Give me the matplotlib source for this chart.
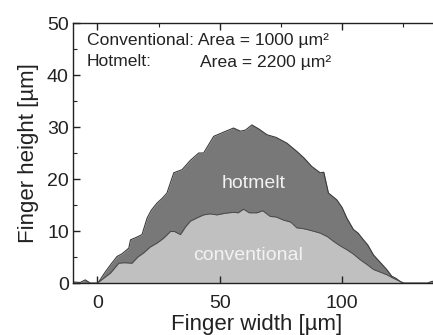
import matplotlib
matplotlib.use("Agg")
import matplotlib.pyplot as plt
from matplotlib.ticker import MultipleLocator

plt.rcParams['font.family'] = ['Liberation Sans', 'DejaVu Sans']

# Hotmelt profile (x in µm, height in µm)
hot_x = [-10, -7, -5, -3, 0, 0.5, 3, 5.5, 8, 10, 12.8, 13.5, 16, 18.2, 20.3, 22, 24.4, 26.5,
         28.4, 31.2, 34.6, 38, 41.4, 43.4, 47.5, 51, 55.6, 58.4, 60.5, 63.1, 66, 69.3, 73,
         77.4, 81.5, 84.5, 87.6, 91, 92.5, 94.4, 97.8, 100, 101.9, 104.6, 106.5, 108.7, 110.5,
         112.8, 115.5, 118.2, 120.3, 122, 123.7, 125, 130, 135, 136.6, 140]
hot_y = [0.2, 0.1, 0.6, 0.0, 0.0, 0.2, 2.0, 3.6, 5.1, 5.6, 6.7, 8.3, 8.8, 9.3, 12.5, 14.0, 15.4, 16.3,
         17.3, 21.2, 21.8, 23.6, 25.0, 25.0, 28.2, 28.9, 29.8, 29.2, 29.4, 30.4, 29.6, 28.5, 28.0,
         26.9, 25.3, 24.0, 22.4, 21.2, 21.3, 17.3, 16.0, 14.5, 12.5, 10.3, 9.6, 8.3, 7.3,
         5.4, 4.0, 2.6, 1.3, 0.9, 0.3, 0.0, 0.0, 0.0, 0.3, 0.4]

# Conventional profile
conv_x = [0, 2.5, 5.3, 8.7, 11, 14.1, 16.5, 18.9, 21.5, 24.4, 27, 29.8, 31.5, 33.9, 36, 38,
          41, 43.4, 46, 48.8, 52, 55.6, 57.5, 59.7, 62, 65.2, 67.5, 70.6, 73, 76, 79, 81.5,
          83.5, 85.6, 88, 91, 94, 96.5, 99, 101.9, 104.5, 107.3, 110, 112.8, 115.5, 118.2,
          121, 123.7, 125]
conv_y = [0.0, 0.9, 1.9, 3.8, 3.9, 3.8, 5.0, 5.8, 6.9, 7.7, 8.6, 9.9, 9.9, 9.3, 10.8, 11.9,
          12.6, 13.1, 13.3, 13.1, 13.4, 13.6, 13.5, 14.2, 13.5, 13.5, 13.9, 12.8, 12.7, 12.1, 11.7, 10.6,
          10.5, 10.3, 10.0, 9.6, 8.9, 8.0, 7.2, 6.4, 5.6, 4.5, 3.6, 2.6, 2.1, 1.6,
          0.9, 0.3, 0.0]

hot_label = "hotmelt"
conv_label = "conventional"
annot_lines = ["Conventional: Area = 1000 µm²", "Hotmelt:", "Area = 2200 µm²"]

fig = plt.figure(figsize=(4.33, 3.35), dpi=100)
W, H = 433, 335
ax = fig.add_axes([73 / W, (H - 283) / H, (440 - 73) / W, (283 - 23) / H])

ax.fill_between(hot_x, hot_y, 0, color='#787878', lw=0)
ax.plot(hot_x, hot_y, color='#3a3a3a', lw=0.8)
ax.fill_between(conv_x, conv_y, 0, color='#c0c0c0', lw=0)
ax.plot(conv_x, conv_y, color='#4a4a4a', lw=0.7)

ax.set_xlim(-10, 140)
ax.set_ylim(0, 50)

ax.xaxis.set_major_locator(MultipleLocator(50))
ax.xaxis.set_minor_locator(MultipleLocator(25))
ax.yaxis.set_major_locator(MultipleLocator(10))
ax.yaxis.set_minor_locator(MultipleLocator(5))
ax.tick_params(which='major', direction='in', length=5, width=1.0, top=True, right=False,
               labelsize=14, pad=9, colors='#222222')
ax.tick_params(axis='y', which='major', pad=3)
ax.tick_params(which='minor', direction='in', length=3, width=0.8, top=True, bottom=False,
               right=False, colors='#222222')
ax.tick_params(axis='y', which='minor', left=True)
ax.spines['right'].set_visible(False)
for s in ['left', 'bottom', 'top']:
    ax.spines[s].set_linewidth(1.0)
    ax.spines[s].set_color('#222222')

ax.set_xlabel("Finger width [µm]", fontsize=16, color='#222222')
ax.xaxis.set_label_coords(0.5, -0.118)
ax.set_ylabel("Finger height [µm]", fontsize=16, labelpad=6, color='#222222')

ax.text(63.7, 19.2, hot_label, color='#f2f2f2', fontsize=14, ha='center', va='center')
ax.text(61.6, 5.2, conv_label, color='#f2f2f2', fontsize=14, ha='center', va='center')

fs = 12.6
fig.text(87 / W, 1 - 40 / H, annot_lines[0], fontsize=fs, ha='left', va='center', color='#222222')
fig.text(87 / W, 1 - 62 / H, annot_lines[1], fontsize=fs, ha='left', va='center', color='#222222')
fig.text(200 / W, 1 - 62 / H, annot_lines[2], fontsize=fs, ha='left', va='center', color='#222222')

fig.savefig("out.png", dpi=100)
